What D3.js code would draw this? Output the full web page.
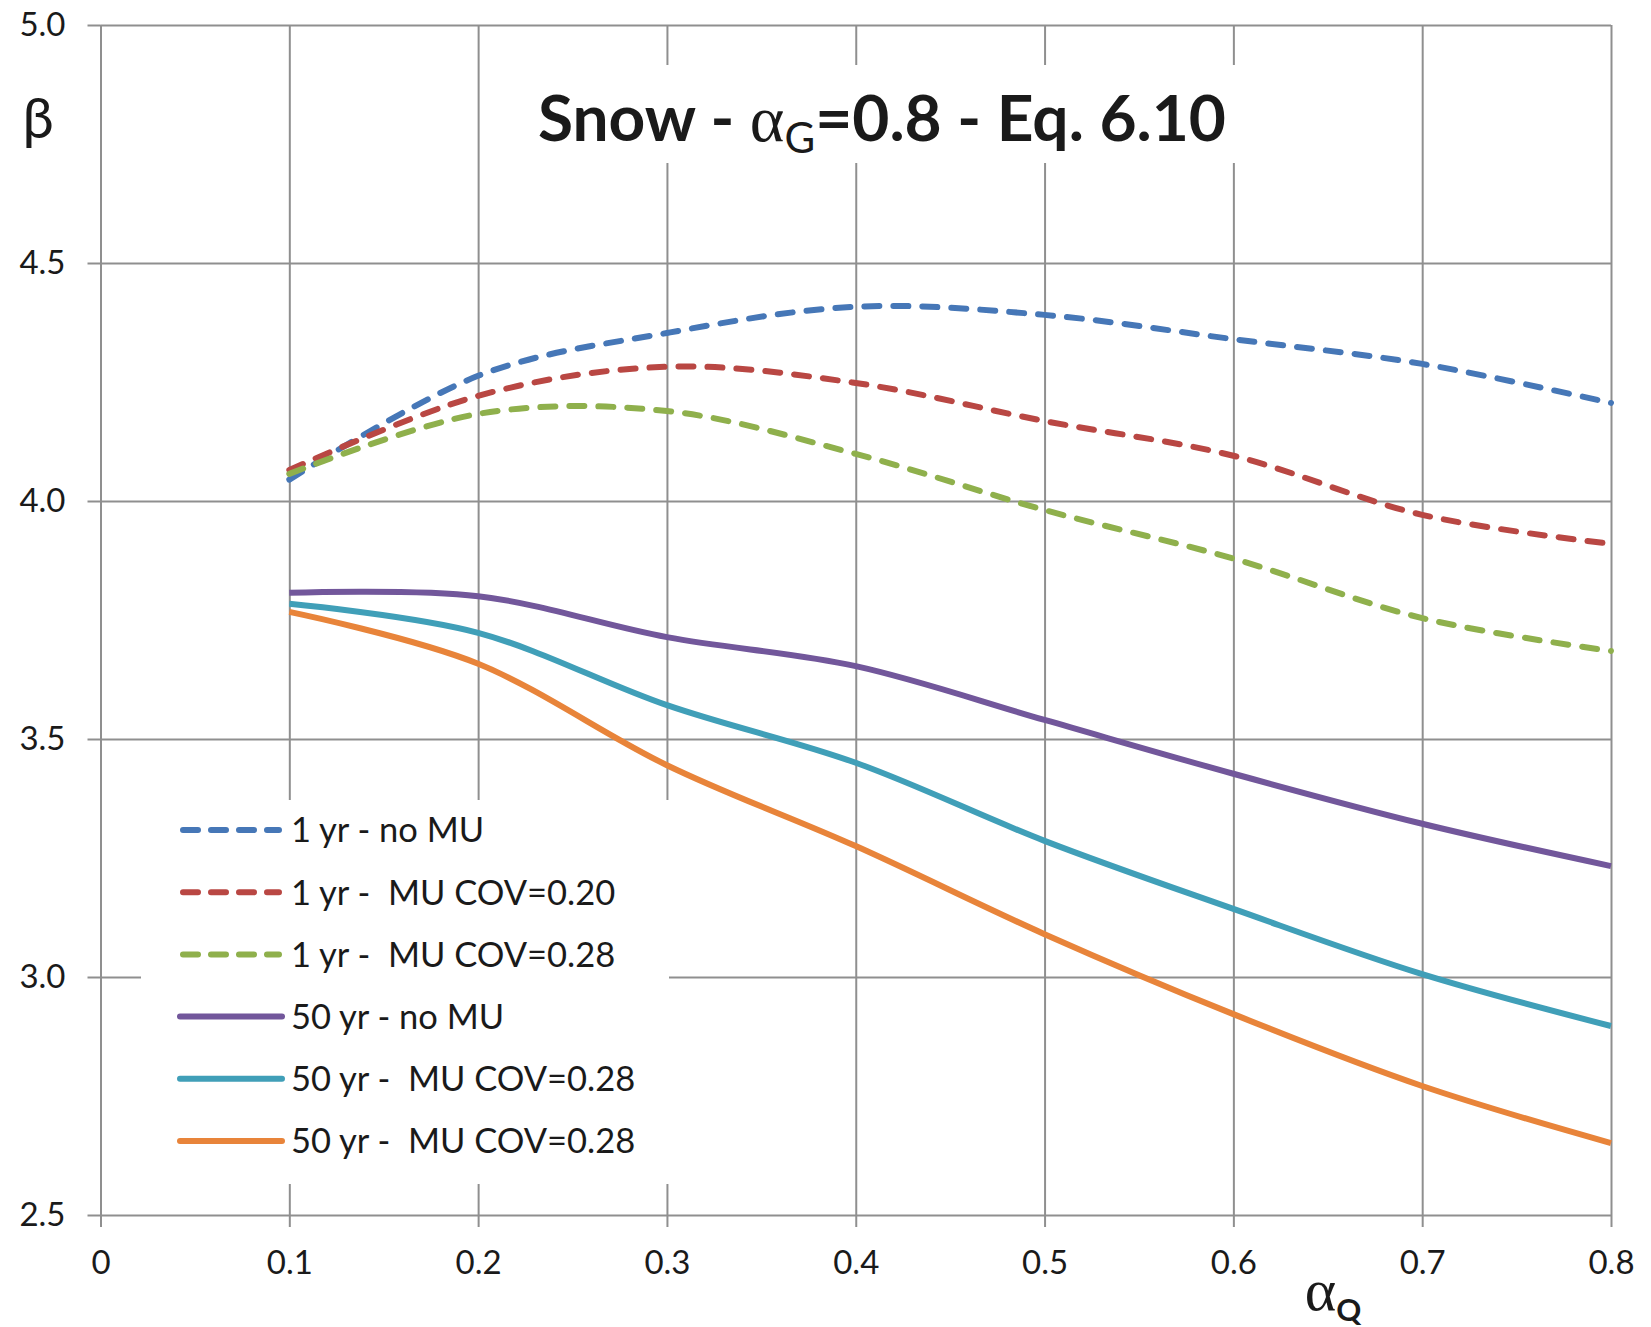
<!DOCTYPE html>
<html>
<head>
<meta charset="utf-8">
<script src="https://cdn.jsdelivr.net/npm/d3@7"></script>
<style>
  html, body { margin: 0; padding: 0; background: #fff; }
  svg { display: block; }
  text { font-family: Lato, "Noto Sans", sans-serif; fill: #1a1a1a; }
</style>
</head>
<body>
<svg id="chart" width="1651" height="1327"></svg>
<script>
// ---- data ----
const xValues = [0.1, 0.2, 0.3, 0.4, 0.5, 0.6, 0.7, 0.8];
const seriesNames = [
  "1 yr - no MU",
  "1 yr -  MU COV=0.20",
  "1 yr -  MU COV=0.28",
  "50 yr - no MU",
  "50 yr -  MU COV=0.28",
  "50 yr -  MU COV=0.28"
];
const oneYrNoMU      = [4.045, 4.263, 4.353, 4.408, 4.391, 4.340, 4.288, 4.206];
const oneYrMU020     = [4.065, 4.221, 4.282, 4.248, 4.168, 4.095, 3.971, 3.910];
const oneYrMU028     = [4.057, 4.183, 4.189, 4.099, 3.981, 3.879, 3.754, 3.685];
const fiftyYrNoMU    = [3.807, 3.800, 3.714, 3.653, 3.540, 3.427, 3.322, 3.233];
const fiftyYrMU028a  = [3.784, 3.723, 3.571, 3.450, 3.286, 3.143, 3.006, 2.897];
const fiftyYrMU028b  = [3.767, 3.658, 3.445, 3.275, 3.090, 2.922, 2.771, 2.651];
const xTicks = [0, 0.1, 0.2, 0.3, 0.4, 0.5, 0.6, 0.7, 0.8];
const xTickLabels = ["0", "0.1", "0.2", "0.3", "0.4", "0.5", "0.6", "0.7", "0.8"];
const yTicks = [2.5, 3.0, 3.5, 4.0, 4.5, 5.0];
const yTickLabels = ["2.5", "3.0", "3.5", "4.0", "4.5", "5.0"];

const seriesValues = [oneYrNoMU, oneYrMU020, oneYrMU028, fiftyYrNoMU, fiftyYrMU028a, fiftyYrMU028b];
const seriesColors = ["#4677B7", "#B94743", "#8FB04C", "#72579B", "#409FB8", "#E8843A"];
const seriesDashed = [true, true, true, false, false, false];

// ---- layout ----
const svg = d3.select("#chart");
const plot = { left: 100.5, right: 1611, top: 25, bottom: 1215 };
const x = d3.scaleLinear().domain([0, 0.8]).range([plot.left, plot.right]);
const y = d3.scaleLinear().domain([2.5, 5.0]).range([plot.bottom, plot.top]);
const gridColor = "#8f8f8f";

// gridlines via axes
const gx = svg.append("g")
  .attr("transform", `translate(0,${plot.bottom})`)
  .call(d3.axisBottom(x).tickValues(xTicks).tickSize(-(plot.bottom - plot.top)).tickFormat(""));
gx.selectAll("line").attr("stroke", gridColor).attr("stroke-width", 2);
gx.select(".domain").remove();

const gxt = svg.append("g")
  .attr("transform", `translate(0,${plot.bottom})`)
  .call(d3.axisBottom(x).tickValues(xTicks).tickSize(12).tickFormat((d, i) => xTickLabels[i]));
gxt.select(".domain").remove();
gxt.selectAll("line").attr("stroke", gridColor).attr("stroke-width", 2);
gxt.selectAll("text").attr("font-size", 33).attr("font-family", "Lato").attr("fill", "#1a1a1a")
  .attr("y", 0).attr("dy", "1.78em");

const gy = svg.append("g")
  .attr("transform", `translate(${plot.left},0)`)
  .call(d3.axisLeft(y).tickValues(yTicks).tickSize(-(plot.right - plot.left)).tickFormat(""));
gy.selectAll("line").attr("stroke", gridColor).attr("stroke-width", 2);
gy.select(".domain").remove();

const gyt = svg.append("g")
  .attr("transform", `translate(${plot.left},0)`)
  .call(d3.axisLeft(y).tickValues(yTicks).tickSize(13).tickFormat((d, i) => yTickLabels[i]));
gyt.select(".domain").remove();
gyt.selectAll("line").attr("stroke", gridColor).attr("stroke-width", 2);
gyt.selectAll("text").attr("font-size", 33).attr("font-family", "Lato").attr("fill", "#1a1a1a")
  .attr("x", -35);

// ---- title with white backing ----
const titleG = svg.append("g");
const titleBg = titleG.append("rect").attr("fill", "#fff");
const title = titleG.append("text")
  .attr("x", 882).attr("y", 141)
  .attr("text-anchor", "middle")
  .attr("font-size", 64).attr("font-weight", "bold");
title.append("tspan").text("Snow - ");
title.append("tspan").attr("font-family", "'Liberation Serif', serif").attr("font-weight", "normal").attr("font-size", 66).text("α");
title.append("tspan").attr("font-weight", "normal").attr("font-size", 42).attr("dy", 12).text("G");
title.append("tspan").attr("dy", -12).text("=0.8 - Eq. 6.10");
const tb = title.node().getBBox();
titleBg.attr("x", tb.x - 14).attr("y", 65).attr("width", tb.width + 28).attr("height", 98);

// ---- axis labels ----
svg.append("text").attr("x", 38).attr("y", 138).attr("text-anchor", "middle")
  .attr("font-family", "'Liberation Serif', serif").attr("font-size", 56).text("β");

const xl = svg.append("text").attr("x", 1333).attr("y", 1310).attr("text-anchor", "middle");
xl.append("tspan").attr("font-family", "'Liberation Serif', serif").attr("font-size", 60).text("α");
xl.append("tspan").attr("font-size", 31).attr("font-weight", "bold").attr("dy", 11).text("Q");

// ---- series lines ----
const line = d3.line()
  .x(d => x(d[0]))
  .y(d => y(d[1]))
  .curve(d3.curveCatmullRom.alpha(0));

const series = seriesValues.map((vals, i) => ({
  name: seriesNames[i], color: seriesColors[i], dashed: seriesDashed[i],
  pts: xValues.map((xv, j) => [xv, vals[j]])
}));

svg.append("g").selectAll("path")
  .data(series)
  .join("path")
  .attr("d", d => line(d.pts))
  .attr("fill", "none")
  .attr("stroke", d => d.color)
  .attr("stroke-width", 6)
  .attr("stroke-linecap", d => d.dashed ? "round" : "butt")
  .attr("stroke-linejoin", "round")
  .attr("stroke-dasharray", d => d.dashed ? "15 14" : null);

// ---- legend ----
const lg = svg.append("g");
lg.append("rect").attr("x", 141).attr("y", 800).attr("width", 528).attr("height", 384).attr("fill", "#fff");
const rowY = d3.scaleLinear().domain([0, 5]).range([830, 1141]);
const rows = lg.selectAll("g.row").data(series).join("g").attr("class", "row")
  .attr("transform", (d, i) => `translate(0,${rowY(i)})`);
rows.append("line")
  .attr("x1", d => d.dashed ? 183 : 180).attr("x2", d => d.dashed ? 279 : 282)
  .attr("y1", 0).attr("y2", 0)
  .attr("stroke", d => d.color).attr("stroke-width", 6)
  .attr("stroke-linecap", "round")
  .attr("stroke-dasharray", d => d.dashed ? "15 13" : null);
rows.append("text")
  .attr("x", 291).attr("y", 0).attr("dy", "0.36em")
  .attr("font-size", 34.5)
  .style("white-space", "pre")
  .text(d => d.name);
</script>
</body>
</html>
